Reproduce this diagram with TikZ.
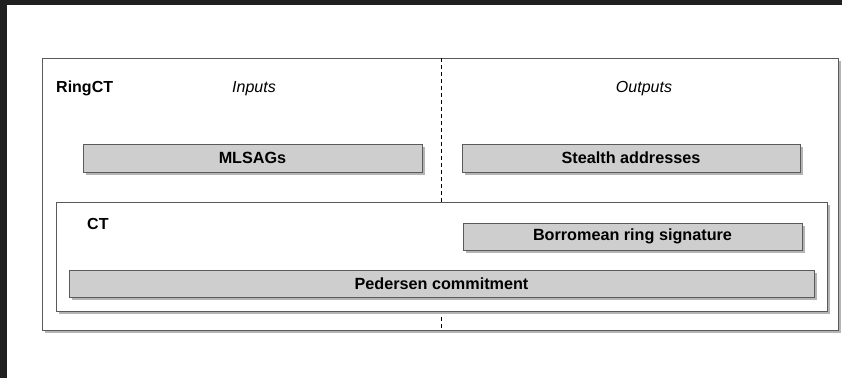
\documentclass[tikz,border=0pt]{standalone}
\usepackage{fontspec}
\setmainfont{Liberation Sans}
\usetikzlibrary{shadows}
\definecolor{frame}{HTML}{5A5A5A}
\definecolor{boxfill}{HTML}{CECECE}
\definecolor{shade}{HTML}{B4B4B4}
\definecolor{band}{HTML}{202020}
\begin{document}
\begin{tikzpicture}[x=1pt,y=-1pt,
  every node/.style={font=\fontsize{16}{19}\selectfont},
  shadowed/.style={drop shadow={shadow xshift=3pt,shadow yshift=-3pt,fill=shade,opacity=1}},
  container/.style={draw=frame,line width=1pt,fill=white,shadowed,inner sep=0pt},
  part/.style={draw=frame,line width=1pt,fill=boxfill,shadowed,inner sep=0pt,
    font=\fontsize{16.2}{19}\selectfont\bfseries},
  title/.style={font=\fontsize{16}{19}\selectfont\bfseries,inner sep=0pt},
  side/.style={font=\fontsize{16}{19}\selectfont\itshape,inner sep=0pt},
  divider/.style={line width=1pt,dash pattern=on 4pt off 3pt}]
\useasboundingbox (0,0) rectangle (842,378);
% dark window edges
\fill[band] (0,0) rectangle (842,5);
\fill[band] (0,0) rectangle (7,378);

% RingCT container
\node[container,minimum width=796pt,minimum height=272pt] (ringct) at (440,194) {};
\node[title,anchor=base west] (ringctlabel) at (56,92) {RingCT};
\node[side,anchor=base] (inputs) at (254,92) {Inputs};
\node[side,anchor=base] (outputs) at (644,92) {Outputs};

% inputs / outputs divider
\coordinate (divtop) at (441,58);
\coordinate (divbot) at (441,330);
\draw[divider] (divtop) -- (divbot);

\node[part,minimum width=339pt,minimum height=28pt] (mlsag) at (252.5,158) {MLSAGs};
\node[part,minimum width=338pt,minimum height=28pt] (stealth) at (631,158) {Stealth addresses};

% CT container
\node[container,minimum width=771pt,minimum height=109pt] (ct) at (441.5,256.5) {};
\node[title,anchor=base west] (ctlabel) at (87,229) {CT};
\node[part,minimum width=339pt,minimum height=27pt] (borromean) at (632.5,236.5) {Borromean ring signature};
\node[part,minimum width=745pt,minimum height=27pt] (pedersen) at (441.5,283.5) {Pedersen commitment};
\end{tikzpicture}
\end{document}
